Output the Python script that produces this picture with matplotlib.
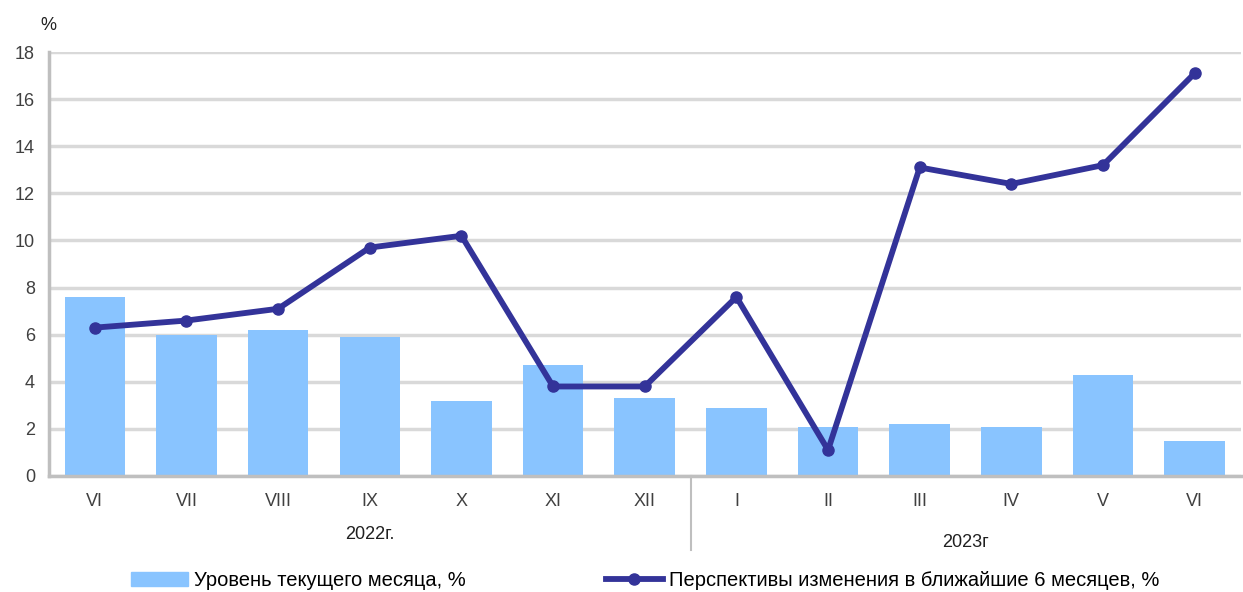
import matplotlib.pyplot as plt
from matplotlib.lines import Line2D
from matplotlib.patches import Patch

plt.rcParams['font.family'] = ['Liberation Sans', 'DejaVu Sans']

months = ["VI", "VII", "VIII", "IX", "X", "XI", "XII", "I", "II", "III", "IV", "V", "VI"]
current_level = [7.6, 6.0, 6.2, 5.9, 3.2, 4.7, 3.3, 2.9, 2.1, 2.2, 2.1, 4.3, 1.5]
outlook_6m = [6.3, 6.6, 7.1, 9.7, 10.2, 3.8, 3.8, 7.6, 1.1, 13.1, 12.4, 13.2, 17.1]
years = ["2022г.", "2023г"]
n_2022 = 7

bar_color = "#89C4FF"
line_color = "#333399"
grid_color = "#D9D9D9"
axis_color = "#BFBFBF"

fig = plt.figure(figsize=(12.43, 5.92), dpi=100)
ax = fig.add_axes([0.0394, 0.196, 0.9586, 0.716])

x = list(range(len(months)))
ax.bar(x, current_level, width=0.66, color=bar_color, zorder=1)
ax.plot(x, outlook_6m, color=line_color, lw=4.2, marker="o", ms=8, zorder=3)

ax.set_xlim(-0.5, len(months) - 0.5)
ax.set_ylim(0, 18)
ax.set_yticks(range(0, 19, 2))
ax.yaxis.grid(True, color=grid_color, lw=2.5, zorder=0)
ax.set_axisbelow(True)
ax.set_xticks(x)
ax.set_xticklabels(months)
ax.tick_params(axis="both", length=0, labelsize=13, colors="#404040", pad=10)
ax.tick_params(axis="x", pad=12)

for s in ["top", "right"]:
    ax.spines[s].set_visible(False)
ax.spines["left"].set_color(axis_color)
ax.spines["left"].set_linewidth(2.5)
ax.spines["bottom"].set_color(axis_color)
ax.spines["bottom"].set_linewidth(2.5)

# year separator and labels
trans = ax.get_xaxis_transform()
ax.plot([n_2022 - 0.5, n_2022 - 0.5], [0, -0.175], transform=trans,
        color=axis_color, lw=1.5, clip_on=False)
ax.text((n_2022 - 1) / 2, -0.139, years[0], transform=trans, ha="center",
        va="center", fontsize=13, color="#202020")
ax.text((n_2022 + len(months) - 1) / 2, -0.158, years[1], transform=trans,
        ha="center", va="center", fontsize=13, color="#202020")

fig.text(48 / 1243, 1 - 25 / 592, "%", ha="center", va="center", fontsize=13, color="#202020")

handles = [Patch(color=bar_color), Line2D([], [], color=line_color, lw=4.2, marker="o", ms=8)]
labels = ["Уровень текущего месяца, %", "Перспективы изменения в ближайшие 6 месяцев, %"]
fig.legend(handles, labels, loc="center", bbox_to_anchor=(0.519, 0.02), ncol=2,
           frameon=False, fontsize=14.5, handlelength=2.8, columnspacing=7.0,
           handletextpad=0.3)

fig.savefig("out.png", dpi=100)
